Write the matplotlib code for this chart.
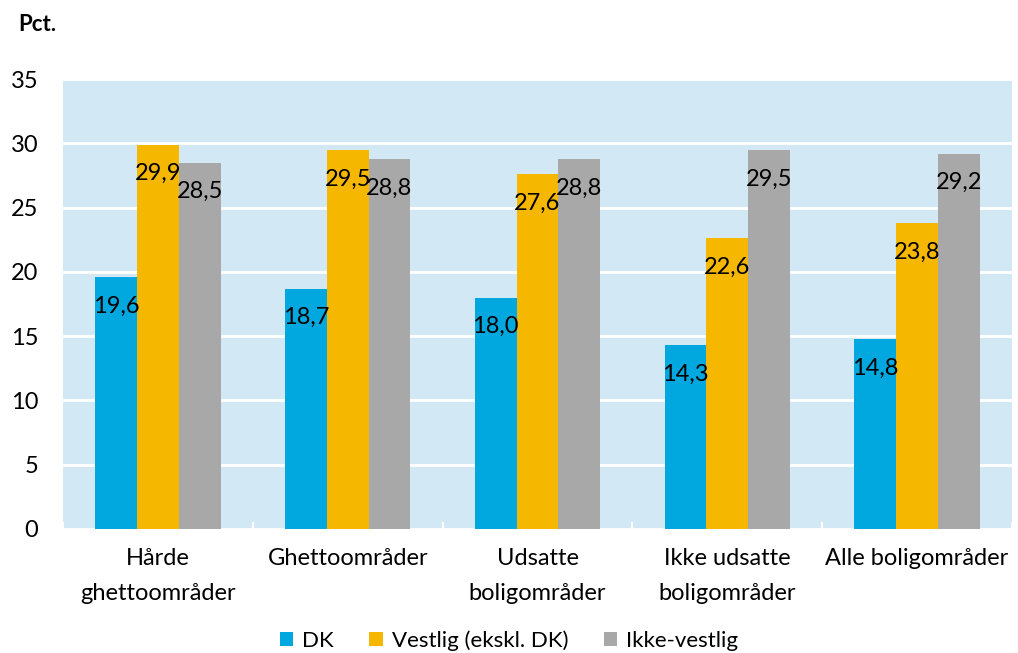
import matplotlib.pyplot as plt
import numpy as np

plt.rcParams['font.family'] = ['Lato', 'DejaVu Sans']

kategorier = ["Hårde\nghettoområder", "Ghettoområder", "Udsatte\nboligområder",
              "Ikke udsatte\nboligområder", "Alle boligområder"]
dk = [19.6, 18.7, 18.0, 14.3, 14.8]
vestlig = [29.9, 29.5, 27.6, 22.6, 23.8]
ikke_vestlig = [28.5, 28.8, 28.8, 29.5, 29.2]
serier = ["DK", "Vestlig (ekskl. DK)", "Ikke-vestlig"]
farver = ["#00A8DF", "#F6B700", "#A8A8A8"]

fig = plt.figure(figsize=(10.18, 6.53), dpi=100)
ax = fig.add_axes([0.062, 0.19, 0.932, 0.689])
ax.set_facecolor("#D3E8F5")

x = np.arange(len(kategorier))
b = 0.22
for i, (vals, navn, farve) in enumerate(zip([dk, vestlig, ikke_vestlig], serier, farver)):
    pos = x + (i - 1) * b
    ax.bar(pos, vals, width=b, color=farve, label=navn, zorder=3)
    for xp, v in zip(pos, vals):
        ax.annotate(f"{v:.1f}".replace(".", ","), (xp, v), xytext=(0, -21),
                    textcoords="offset points", ha="center", va="center",
                    fontsize=17, color="black", zorder=4)

ax.set_ylim(0, 35)
ax.set_xlim(-0.5, len(kategorier) - 0.5)
ax.set_yticks(range(0, 36, 5))
ax.grid(axis="y", color="white", linewidth=2, zorder=1)
ax.set_xticks(x)
ax.set_xticklabels(kategorier, fontsize=17, linespacing=1.8)
ax.set_xticks(np.arange(-0.5, len(kategorier), 1), minor=True)
ax.tick_params(axis="x", which="major", length=0, pad=14)
ax.tick_params(axis="x", which="minor", direction="in", length=5, color="white", width=1.5)
ax.tick_params(axis="y", length=0, labelsize=17, pad=18)
for s in ax.spines.values():
    s.set_visible(False)

fig.text(0.018, 0.962, "Pct.", fontsize=16, fontweight="bold", va="center")
fig.legend(loc="lower center", bbox_to_anchor=(0.5, -0.027), ncol=3, frameon=False,
           fontsize=16, handlelength=0.6, handleheight=0.6, handletextpad=0.4,
           columnspacing=1.6)

fig.savefig("out.png", dpi=100)
